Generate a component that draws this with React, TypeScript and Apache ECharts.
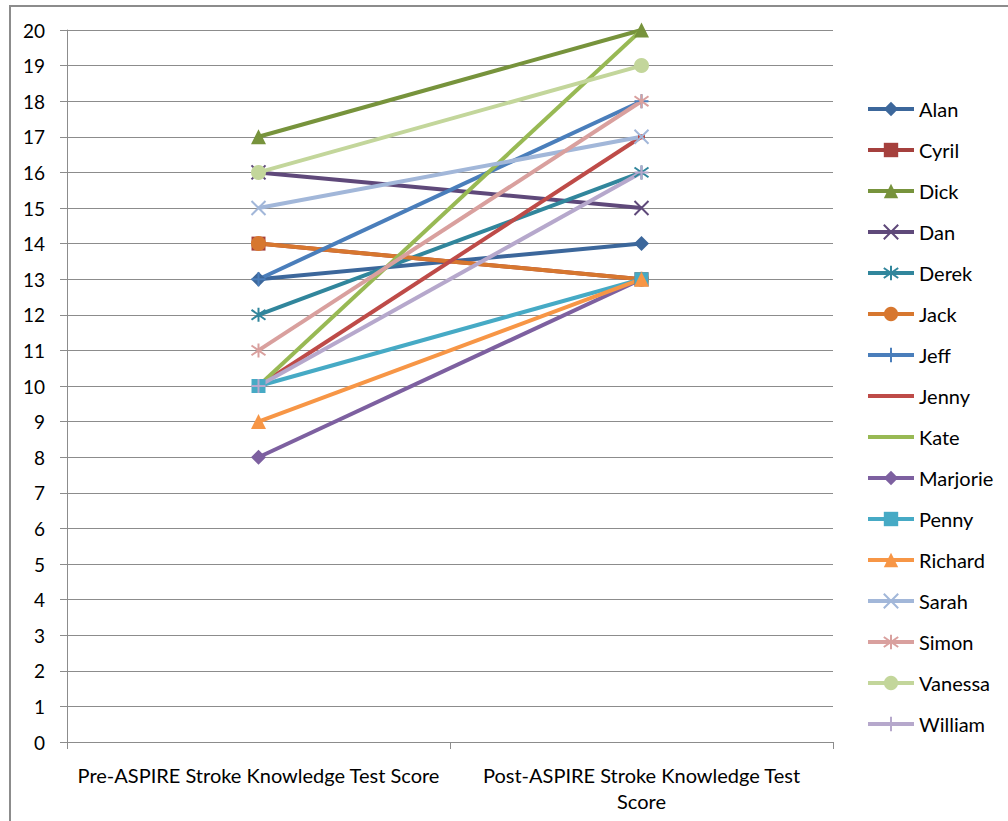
import React, { useEffect, useRef } from "react";
import * as echarts from "echarts";

const categories = [
  "Pre-ASPIRE Stroke Knowledge Test Score",
  "Post-ASPIRE Stroke Knowledge Test\nScore",
];
const names = [
  "Alan", "Cyril", "Dick", "Dan", "Derek", "Jack", "Jeff", "Jenny",
  "Kate", "Marjorie", "Penny", "Richard", "Sarah", "Simon", "Vanessa", "William",
];
const preScores = [13, 14, 17, 16, 12, 14, 13, 10, 10, 8, 10, 9, 15, 11, 16, 10];
const postScores = [14, 13, 20, 15, 16, 13, 18, 17, 20, 13, 13, 13, 17, 18, 19, 16];
const colors = [
  "#3C679B", "#A5403D", "#77933C", "#5F497A", "#31869C", "#D7772F",
  "#4A7EBB", "#BE4B48", "#98B954", "#7D60A0", "#46AAC5", "#F79646",
  "#A2B7D9", "#D9A09E", "#C3D69B", "#B6A8CC",
];

const X_PATH = "path://M0,0L10,10M10,0L0,10";
const STAR_PATH = "path://M5,0L5,10M0,1.5L10,8.5M0,8.5L10,1.5";
const PLUS_PATH = "path://M5,0L5,10M0,5L10,5";
const symbols = [
  "diamond", "rect", "triangle", X_PATH, STAR_PATH, "circle", PLUS_PATH, "rect",
  "none", "diamond", "rect", "triangle", X_PATH, STAR_PATH, "circle", PLUS_PATH,
];
const symbolSizes: any[] = [15, 14, 15, 14, 14, 15, 14, [7, 5], 0, 15, 14, 15, 14, 14, 15, 14];
const strokeSymbols = [false, false, false, true, true, false, true, false, false, false, false, false, true, true, false, true];
const hideLegendSymbol = [false, false, false, false, false, false, false, true, true, false, false, false, false, false, false, false];

const FONT = "Lato, 'Open Sans', sans-serif";

export default function App() {
  const ref = useRef<HTMLDivElement>(null);
  useEffect(() => {
    if (!ref.current) return;
    const chart = echarts.init(ref.current, null, { renderer: "svg" });
    const series = names.map((n, i) => ({
      name: n,
      type: "line",
      data: [preScores[i], postScores[i]],
      symbol: symbols[i],
      symbolSize: symbolSizes[i],
      showSymbol: symbols[i] !== "none",
      lineStyle: { color: colors[i], width: 4 },
      itemStyle: {
        color: colors[i],
        borderColor: colors[i],
        borderWidth: strokeSymbols[i] ? 2 : 0,
      },
      emphasis: { disabled: true },
    }));
    chart.setOption({
      animation: false,
      backgroundColor: "#fff",
      textStyle: { fontFamily: FONT },
      graphic: [
        {
          type: "rect",
          shape: { x: 10, y: 6, width: 1100, height: 1000 },
          style: { fill: "none", stroke: "#8c8c8c", lineWidth: 2 },
          silent: true,
        },
      ],
      grid: { left: 67, right: 175, top: 30, bottom: 79, containLabel: false },
      legend: {
        orient: "vertical",
        left: 861,
        top: 94,
        itemWidth: 46,
        itemHeight: 18,
        itemGap: 21,
        lineStyle: { width: 4 },
        data: names.map((n, i) =>
          hideLegendSymbol[i] ? { name: n, itemStyle: { opacity: 0 } } : { name: n }
        ),
        textStyle: { fontFamily: FONT, fontSize: 20, color: "#000", lineHeight: 20 },
      },
      xAxis: {
        type: "category",
        data: categories,
        boundaryGap: true,
        axisLine: { lineStyle: { color: "#8c8c8c", width: 1 } },
        axisTick: { show: true, length: 7, lineStyle: { color: "#8c8c8c" } },
        axisLabel: {
          fontFamily: FONT,
          fontSize: 20,
          color: "#000",
          margin: 20,
          lineHeight: 26,
          interval: 0,
        },
      },
      yAxis: {
        type: "value",
        min: 0,
        max: 20,
        interval: 1,
        axisLine: { show: true, lineStyle: { color: "#8c8c8c", width: 1 } },
        axisTick: { show: true, length: 7, lineStyle: { color: "#8c8c8c" } },
        splitLine: { lineStyle: { color: "#8c8c8c", width: 1.2 } },
        axisLabel: { fontFamily: FONT, fontSize: 19, color: "#000", margin: 22 },
      },
      series,
    });
    return () => chart.dispose();
  }, []);
  return (
    <div
      ref={ref}
      style={{ position: "fixed", left: 0, top: 0, width: 1008, height: 821 }}
    />
  );
}
